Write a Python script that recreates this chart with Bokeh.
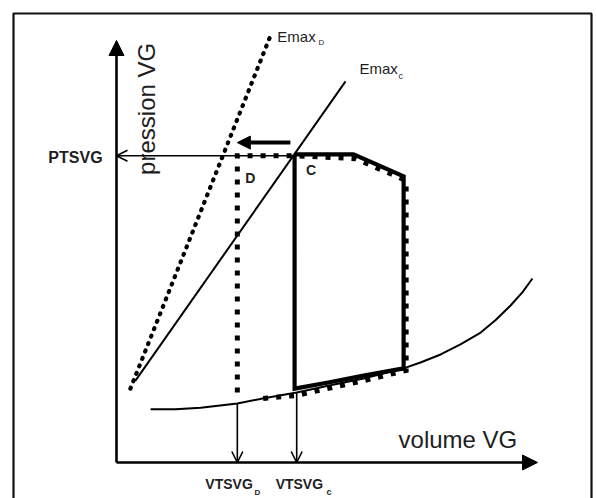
import math
from bokeh.plotting import figure
from bokeh.models import Range1d, Arrow, NormalHead, OpenHead
from bokeh.core.properties import value
from bokeh.embed import file_html
from bokeh.resources import INLINE

# ---- data (volume / pressure in arbitrary units, axes span 0..100) ----
edpvr_vol = [8.1, 14.0, 20.0, 28.7, 35.0, 42.8, 50.8, 58.7, 68.2, 72.2, 77.0,
             81.7, 86.5, 90.0, 93.6, 96.4, 98.8]
edpvr_pres = [12.6, 12.6, 13.0, 14.0, 15.2, 16.6, 18.3, 19.9, 22.3, 23.7, 25.6,
              28.0, 30.8, 33.7, 37.2, 40.3, 43.6]

emax_c_vol = [4.5, 54.4]
emax_c_pres = [19.4, 90.3]
emax_d_vol = [3.3, 36.6]
emax_d_pres = [17.5, 101.2]

loop_c_vol = [42.3, 56.3, 68.2, 68.2, 58.7, 50.0, 42.3, 42.3]
loop_c_pres = [73.0, 73.0, 67.8, 22.3, 20.6, 18.9, 17.5, 73.0]

loop_d_vol = [28.7, 28.7, 42.3, 56.8, 68.8, 68.8, 58.7, 50.0, 42.8, 34.2]
loop_d_pres = [16.6, 72.7, 72.7, 72.0, 66.8, 21.8, 19.4, 17.5, 15.9, 15.1]

ptsvg = 72.7
vtsvg_d = 28.7
vtsvg_c = 42.8
vtsvg_d_pres = 14.0
vtsvg_c_pres = 16.6
shift_arrow_vol = [41.3, 28.7]
shift_arrow_pres = 75.8

axis_max = 100.0

# ---- figure ----
W, H = 596, 498
PX_X, PX_Y = 4.21, 4.22
OX, OY = 116, 462
x0 = (0 - OX) / PX_X
x1 = (W - OX) / PX_X
y0 = (OY - H) / PX_Y
y1 = (OY - 0) / PX_Y

p = figure(width=W, height=H, output_backend="svg", toolbar_location=None,
           x_range=Range1d(x0, x1), y_range=Range1d(y0, y1),
           x_axis_type=None, y_axis_type=None, min_border=0)
p.grid.visible = False
p.outline_line_color = None
p.background_fill_color = "white"
p.border_fill_color = "white"

FONT = value("Liberation Sans")
INK = "#1e1e1e"

# outer frame (left, top, right sides)
fl = x0 + 13 / PX_X
ft = y1 - 13 / PX_Y
fr = x0 + 591 / PX_X
p.line([fl, fl, fr, fr], [y0 - 5, ft, ft, y0 - 5], line_color="#111111", line_width=2.2)

# axes with arrow heads
p.add_layout(Arrow(end=NormalHead(size=15, fill_color="black", line_color="black"),
                   x_start=0, y_start=0, x_end=0, y_end=axis_max,
                   line_width=2.6, line_color="black"))
p.add_layout(Arrow(end=NormalHead(size=15, fill_color="black", line_color="black"),
                   x_start=0, y_start=0, x_end=axis_max, y_end=0,
                   line_width=2.6, line_color="black"))

# Emax lines
p.line(emax_d_vol, emax_d_pres, line_color="black", line_width=4.2,
       line_dash="1 7", line_cap="round")
p.line(emax_c_vol, emax_c_pres, line_color="black", line_width=2.0)

# EDPVR curve
p.line(edpvr_vol, edpvr_pres, line_color="black", line_width=2.0, line_join="round")

# PV loops
p.line(loop_d_vol, loop_d_pres, line_color="black", line_width=5.0,
       line_dash="5 8", line_join="miter")
p.line(loop_c_vol, loop_c_pres, line_color="black", line_width=4.2, line_join="miter")

# PTSVG arrow to the pressure axis
p.add_layout(Arrow(end=OpenHead(size=11, line_width=1.6, line_color="black"),
                   x_start=loop_c_vol[0], y_start=ptsvg, x_end=0, y_end=ptsvg,
                   line_width=1.6, line_color="black"))
# shift arrow
p.add_layout(Arrow(end=NormalHead(size=13, fill_color="black", line_color="black"),
                   x_start=shift_arrow_vol[0], y_start=shift_arrow_pres,
                   x_end=shift_arrow_vol[1], y_end=shift_arrow_pres,
                   line_width=4.0, line_color="black"))
# volume arrows
for v, pr in [(vtsvg_d, vtsvg_d_pres), (vtsvg_c, vtsvg_c_pres)]:
    p.add_layout(Arrow(end=OpenHead(size=11, line_width=1.6, line_color="black"),
                       x_start=v, y_start=pr, x_end=v, y_end=0,
                       line_width=1.6, line_color="black"))

# texts
def txt(x, y, s, size, style="normal", align="left", baseline="middle", angle=0.0):
    p.text(x=[x], y=[y], text=[s], text_font=FONT, text_font_size=f"{size}px",
           text_font_style=style, text_color=INK, text_align=align,
           text_baseline=baseline, angle=angle)

txt(7.1, 83.8, "pression VG", 24, align="center", angle=math.pi / 2)
txt(67.0, 5.4, "volume VG", 24)
txt(-3.3, 72.3, "PTSVG", 16, style="bold", align="right")
txt(21.1, -5.0, "VTSVG", 14, style="bold")
txt(32.8, -7.0, "D", 8, style="bold")
txt(37.8, -5.0, "VTSVG", 14, style="bold")
txt(49.9, -7.0, "c", 9, style="bold")
txt(38.2, 100.9, "Emax", 15)
txt(48.0, 99.5, "D", 8)
txt(57.7, 93.4, "Emax", 15)
txt(67.0, 91.6, "c", 9)
txt(45.0, 69.2, "C", 14, style="bold")
txt(30.6, 67.5, "D", 14, style="bold")

open("out.html", "w").write(file_html(p, INLINE))
